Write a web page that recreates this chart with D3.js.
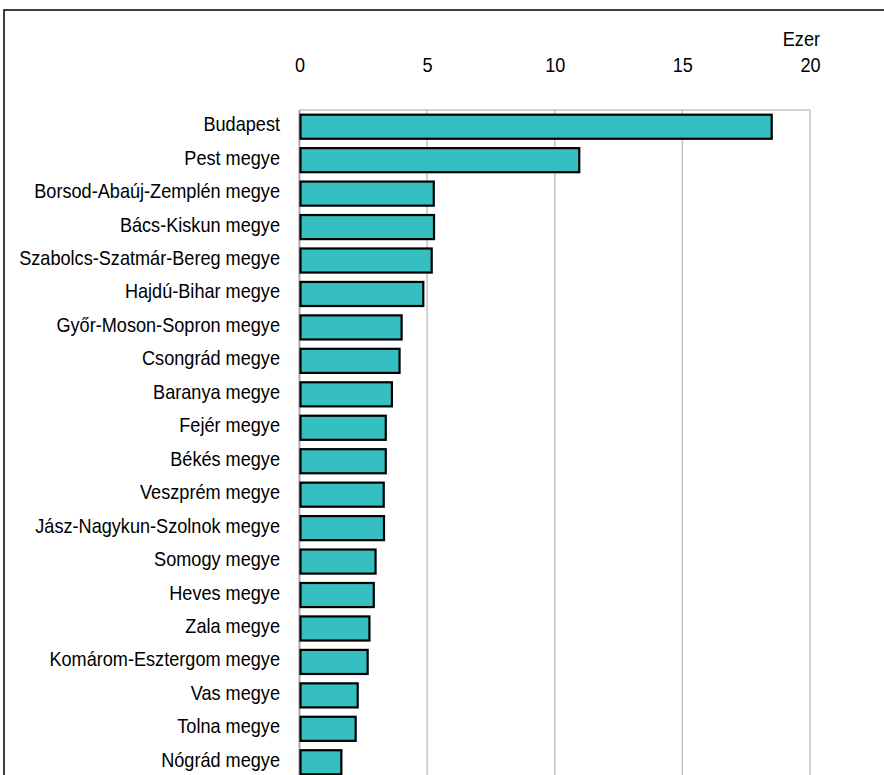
<!DOCTYPE html>
<html><head><meta charset="utf-8">
<script src="https://cdn.jsdelivr.net/npm/d3@7/dist/d3.min.js"></script>
<style>body{margin:0;background:#fff;}svg{display:block;}</style>
</head><body>
<script>
const categories = ["Budapest","Pest megye","Borsod-Abaúj-Zemplén megye","Bács-Kiskun megye","Szabolcs-Szatmár-Bereg megye","Hajdú-Bihar megye","Győr-Moson-Sopron megye","Csongrád megye","Baranya megye","Fejér megye","Békés megye","Veszprém megye","Jász-Nagykun-Szolnok megye","Somogy megye","Heves megye","Zala megye","Komárom-Esztergom megye","Vas megye","Tolna megye","Nógrád megye"];
const values = [18.5,10.96,5.26,5.27,5.18,4.85,4.0,3.92,3.62,3.38,3.38,3.30,3.31,2.98,2.91,2.74,2.67,2.28,2.20,1.64];
const tickValues = [0,5,10,15,20];
const unitLabel = "Ezer";

const W = 884, H = 775;
const svg = d3.select("body").append("svg").attr("width", W).attr("height", H);
const font = "'Liberation Sans', Arial, sans-serif";
const fs = 19.5, sx = 0.93;

svg.append("rect").attr("x", 4).attr("y", 10).attr("width", 1000).attr("height", 1000)
  .attr("fill", "none").attr("stroke", "#000").attr("stroke-width", 1.5);

const x = d3.scaleLinear().domain([0, 20]).range([299.5, 810]);
const y = d3.scaleBand().domain(categories).range([110, 779]).paddingInner(0.28).paddingOuter(0.14);

svg.append("g").selectAll("line").data(tickValues.filter(d => d > 0)).join("line")
  .attr("x1", d => x(d)).attr("x2", d => x(d)).attr("y1", 110).attr("y2", 779)
  .attr("stroke", "#c4c4c4").attr("stroke-width", 1.5);
svg.append("line").attr("x1", x(0)).attr("x2", x(20)).attr("y1", 110).attr("y2", 110)
  .attr("stroke", "#c4c4c4").attr("stroke-width", 1.5);
svg.append("line").attr("x1", x(0)).attr("x2", x(0)).attr("y1", 110).attr("y2", 779)
  .attr("stroke", "#a8a8a8").attr("stroke-width", 2);

svg.append("g").selectAll("rect").data(categories).join("rect")
  .attr("x", x(0) + 1)
  .attr("y", d => y(d))
  .attr("width", (d, i) => x(values[i]) - x(0) - 1)
  .attr("height", y.bandwidth())
  .attr("fill", "#35bfc1").attr("stroke", "#000").attr("stroke-width", 2.2);

// top axis
const axis = d3.axisTop(x).tickValues(tickValues).tickSize(0).tickPadding(0);
const ag = svg.append("g").attr("transform", "translate(0,71.5)").call(axis);
ag.select(".domain").remove();
ag.selectAll("text").attr("font-family", font).attr("font-size", fs).attr("fill", "#000")
  .attr("dy", 0).attr("transform", `scale(${sx},1)`)
  .attr("x", function() { return 0; });
ag.selectAll(".tick").each(function(d) {
  d3.select(this).select("text").attr("transform", `scale(${sx},1)`);
});

svg.append("text").attr("transform", `translate(820,45.5) scale(${sx},1)`).attr("text-anchor", "end")
  .attr("font-family", font).attr("font-size", fs).text(unitLabel);

svg.append("g").selectAll("text").data(categories).join("text")
  .attr("transform", d => `translate(280,${y(d) + y.bandwidth() / 2 + 4.5}) scale(${sx},1)`)
  .attr("text-anchor", "end").attr("font-family", font).attr("font-size", fs)
  .attr("fill", "#000").text(d => d);
</script>
</body></html>
